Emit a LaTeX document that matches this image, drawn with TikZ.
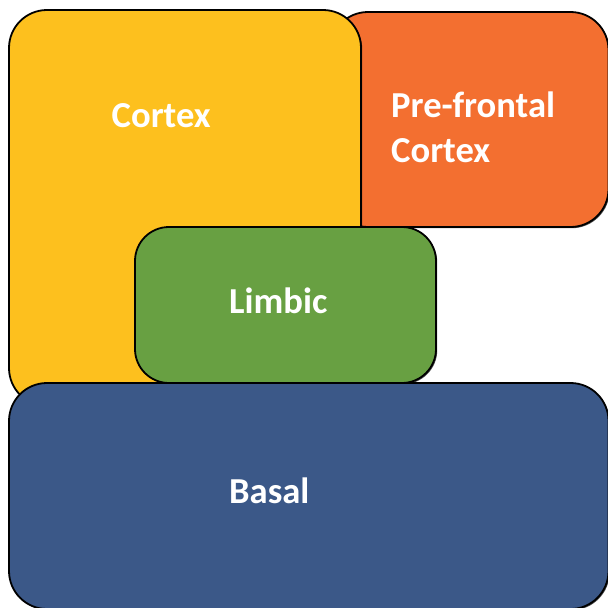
\documentclass[tikz,border=0pt]{standalone}
\usepackage{fontspec}
\setmainfont{Carlito}
\usetikzlibrary{shadows}

\definecolor{cortexyellow}{HTML}{FDC01E}
\definecolor{prefrontalorange}{HTML}{F36F30}
\definecolor{limbicgreen}{HTML}{68A042}
\definecolor{basalblue}{HTML}{3B5888}

\tikzset{
  region/.style={draw=black, line width=1.8pt, rounded corners=38pt,
    drop shadow={shadow xshift=1.2pt, shadow yshift=-1.2pt, fill=black, opacity=0.7}},
  regionlabel/.style={text=white, font=\fontsize{36.6}{44}\selectfont\bfseries,
    inner sep=0pt, anchor=base west}
}

\begin{document}
\begin{tikzpicture}[x=1pt, y=-1pt]
  \useasboundingbox (0,0) rectangle (608,608);

  % brain regions, back to front
  \path[region, fill=prefrontalorange] (330,12) rectangle (608.5,227);
  \path[region, fill=cortexyellow] (9,10) rectangle (361,406);
  \path[region, fill=limbicgreen, rounded corners=34pt] (135,227) rectangle (436,383);
  \path[region, fill=basalblue] (9,383) rectangle (608.5,609);

  % labels
  \node[regionlabel] (cortex) at (111.5,127) {Cortex};
  \node[regionlabel] (prefrontal) at (391,117) {Pre-frontal};
  \node[regionlabel] (prefrontal2) at (391,162) {Cortex};
  \node[regionlabel] (limbic) at (229,313) {Limbic};
  \node[regionlabel] (basal) at (229,503) {Basal};
\end{tikzpicture}
\end{document}
